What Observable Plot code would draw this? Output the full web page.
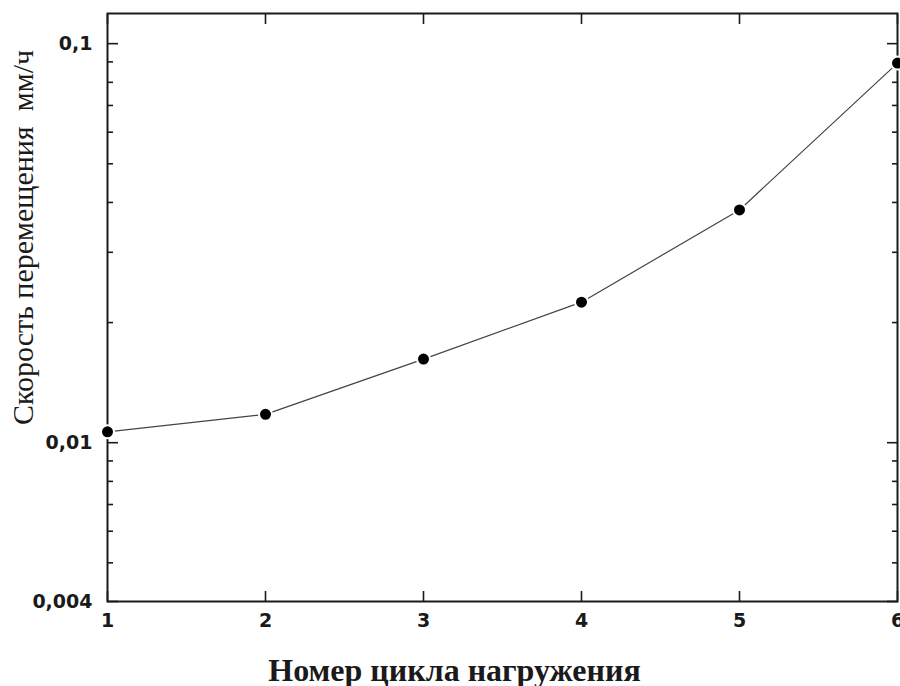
<!DOCTYPE html>
<html><head><meta charset="utf-8">
<script src="https://cdn.jsdelivr.net/npm/d3@7"></script>
<script src="https://cdn.jsdelivr.net/npm/@observablehq/plot@0.6"></script>
<style>html,body{margin:0;padding:0;background:#fff;overflow:hidden}</style>
</head><body><div id="chart"></div>
<script>
const cycles = [1, 2, 3, 4, 5, 6];
const speeds = [0.01065, 0.01178, 0.0162, 0.0225, 0.0383, 0.0894];
const yMajorTicks = [0.004, 0.01, 0.1];
const yMinorTicks = [0.005, 0.006, 0.007, 0.008, 0.009, 0.02, 0.03, 0.04, 0.05, 0.06, 0.07, 0.08, 0.09];
const xTicks = [1, 2, 3, 4, 5, 6];
const xTitle = "Номер цикла нагружения";
const yTitle = "Скорость перемещения  мм/ч";

const data = cycles.map((c, i) => ({c, v: speeds[i]}));
const fmt = d => String(d).replace(".", ",");
const tf = {fontFamily: "DejaVu Sans", fontWeight: "bold", fontSize: 19};
const ink = "#1a1a1a";

const chart = Plot.plot({
  width: 900, height: 686,
  marginLeft: 107, marginRight: 3, marginTop: 13, marginBottom: 85,
  x: {domain: [1, 6]},
  y: {type: "log", domain: [0.004, 0.119]},
  style: {background: "#fff", color: ink},
  marks: [
    // inward ticks
    Plot.axisX(xTicks, {anchor: "bottom", tickSize: -10, fill: "none", label: null, strokeWidth: 1.6}),
    Plot.axisX(xTicks, {anchor: "top", tickSize: -10, fill: "none", label: null, strokeWidth: 1.6}),
    Plot.axisY(yMajorTicks, {anchor: "left", tickSize: -11, fill: "none", label: null, strokeWidth: 1.6}),
    Plot.axisY(yMinorTicks, {anchor: "left", tickSize: -6, fill: "none", label: null, strokeWidth: 1.6}),
    Plot.axisY(yMajorTicks, {anchor: "right", tickSize: -11, fill: "none", label: null, strokeWidth: 1.6}),
    Plot.axisY(yMinorTicks, {anchor: "right", tickSize: -6, fill: "none", label: null, strokeWidth: 1.6}),
    // tick labels
    Plot.axisX(xTicks, {anchor: "bottom", tickSize: 0, tickPadding: 12, label: null, tickFormat: d => String(d), ...tf}),
    Plot.axisY(yMajorTicks, {anchor: "left", tickSize: 0, tickPadding: 15, label: null, tickFormat: fmt, ...tf}),
    Plot.frame({stroke: ink, strokeWidth: 2}),
    Plot.line(data, {x: "c", y: "v", stroke: "#444", strokeWidth: 1.2}),
    Plot.dot(data, {x: "c", y: "v", r: 6.5, fill: "#000", stroke: "#fff", strokeWidth: 2}),
    Plot.text([yTitle], {text: d => d, frameAnchor: "left", textAnchor: "middle", lineAnchor: "middle",
      rotate: -90, dx: -84, dy: -70, fontFamily: "Liberation Serif", fontSize: 30, fill: ink}),
    Plot.text([xTitle], {text: d => d, frameAnchor: "bottom", textAnchor: "middle", lineAnchor: "bottom",
      dx: -48, dy: 79, fontFamily: "Liberation Serif", fontWeight: "bold", fontSize: 32, fill: ink})
  ]
});
document.getElementById("chart").appendChild(chart);
</script>
</body></html>
